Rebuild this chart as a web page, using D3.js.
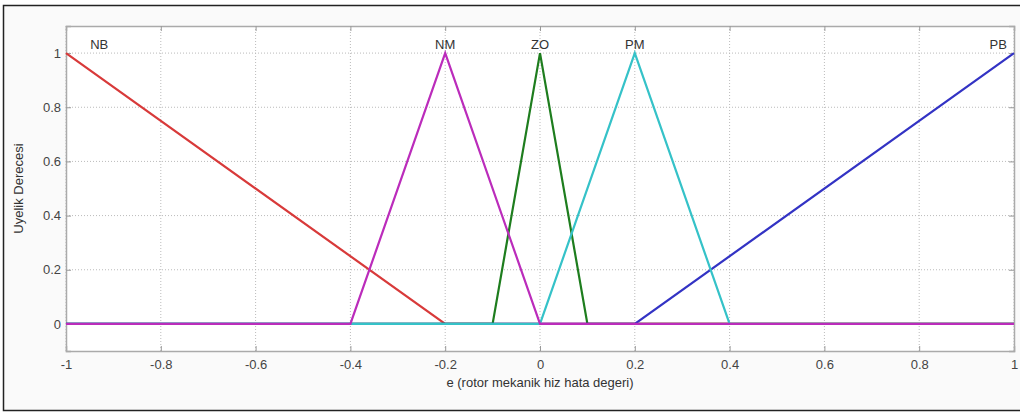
<!DOCTYPE html>
<html><head><meta charset="utf-8">
<script src="https://cdn.jsdelivr.net/npm/d3@7"></script>
<style>body{margin:0;background:#fff}svg{display:block}</style>
</head><body>
<svg id="c" width="1020" height="412"></svg>
<script>
const xTicks = [-1, -0.8, -0.6, -0.4, -0.2, 0, 0.2, 0.4, 0.6, 0.8, 1];
const yTicks = [0, 0.2, 0.4, 0.6, 0.8, 1];
const nbX = [-1, -0.2, 1];       const nbY = [1, 0, 0];
const zoX = [-1, -0.1, 0, 0.1, 1]; const zoY = [0, 0, 1, 0, 0];
const pbX = [-1, 0.2, 1];        const pbY = [0, 0, 1];
const pmX = [-1, 0, 0.2, 0.4, 1]; const pmY = [0, 0, 1, 0, 0];
const nmX = [-1, -0.4, -0.2, 0, 1]; const nmY = [0, 0, 1, 0, 0];
const labels = ["NB", "NM", "ZO", "PM", "PB"];
const labelX = [-0.93, -0.2, 0, 0.2, 0.985];

const svg = d3.select("#c");
const L = 66, R = 1014, T = 26, B = 351;
const x = d3.scaleLinear().domain([-1, 1]).range([L, R]);
const y = d3.scaleLinear().domain([-0.1, 1.1]).range([B, T]);
const fmt = d => String(d);
const FONT = "Liberation Sans, Arial, sans-serif";

// outer frame
svg.append("rect").attr("x", 3.5).attr("y", 5.5).attr("width", 1030).attr("height", 405)
  .attr("fill", "#fafafa").attr("stroke", "#222").attr("stroke-width", 1.5);
svg.append("rect").attr("x", L).attr("y", T).attr("width", R - L).attr("height", B - T).attr("fill", "#fff");

// grid
const g = svg.append("g");
g.selectAll(".gx").data(xTicks).join("line")
  .attr("x1", d => x(d)).attr("x2", d => x(d)).attr("y1", T).attr("y2", B)
  .attr("stroke", "#bbb").attr("stroke-dasharray", "1,2");
g.selectAll(".gy").data(yTicks).join("line")
  .attr("y1", d => y(d)).attr("y2", d => y(d)).attr("x1", L).attr("x2", R)
  .attr("stroke", "#bbb").attr("stroke-dasharray", "1,2");

// axes
const xa = svg.append("g").attr("transform", `translate(0,${B})`)
  .call(d3.axisBottom(x).tickValues(xTicks).tickSize(-5).tickPadding(9).tickFormat(fmt));
const xt = svg.append("g").attr("transform", `translate(0,${T})`)
  .call(d3.axisTop(x).tickValues(xTicks).tickSize(-5).tickFormat(""));
const ya = svg.append("g").attr("transform", `translate(${L},0)`)
  .call(d3.axisLeft(y).tickValues(yTicks).tickSize(-5).tickPadding(5).tickFormat(fmt));
const yr = svg.append("g").attr("transform", `translate(${R},0)`)
  .call(d3.axisRight(y).tickValues(yTicks).tickSize(-5).tickFormat(""));
[xa, xt, ya, yr].forEach(a => {
  a.select(".domain").attr("stroke", "#aaa").attr("stroke-width", 1.5);
  a.selectAll(".tick line").attr("stroke", "#999");
  a.selectAll("text").attr("fill", "#444").style("font-family", FONT).style("font-size", "13px");
});
xa.selectAll("text").attr("dy", "0.71em");

// series
const series = [
  {xs: nbX, ys: nbY, c: "#d83a3a"},
  {xs: zoX, ys: zoY, c: "#1e7d1e"},
  {xs: pbX, ys: pbY, c: "#3333c4"},
  {xs: pmX, ys: pmY, c: "#35c2c8"},
  {xs: nmX, ys: nmY, c: "#bb2cbb"}
];
const line = d3.line().x(d => x(d[0])).y(d => y(d[1]));
series.forEach(s => {
  svg.append("path").attr("d", line(d3.zip(s.xs, s.ys)))
    .attr("fill", "none").attr("stroke", s.c).attr("stroke-width", 2.2).attr("stroke-linejoin", "miter");
});

// labels
svg.selectAll(".lbl").data(labels).join("text")
  .attr("x", (d, i) => x(labelX[i])).attr("y", y(1) - 4)
  .attr("text-anchor", (d, i) => i === 4 ? "end" : "middle")
  .attr("fill", "#333").style("font-family", FONT).style("font-size", "13px")
  .text(d => d);

// axis titles
svg.append("text").attr("x", x(0)).attr("y", 387).attr("text-anchor", "middle")
  .attr("fill", "#333").style("font-family", FONT).style("font-size", "13px")
  .text("e (rotor mekanik hiz hata degeri)");
svg.append("text").attr("transform", `translate(23,${(T + B) / 2}) rotate(-90)`).attr("text-anchor", "middle")
  .attr("fill", "#333").style("font-family", FONT).style("font-size", "13px")
  .text("Uyelik Derecesi");
</script>
</body></html>
